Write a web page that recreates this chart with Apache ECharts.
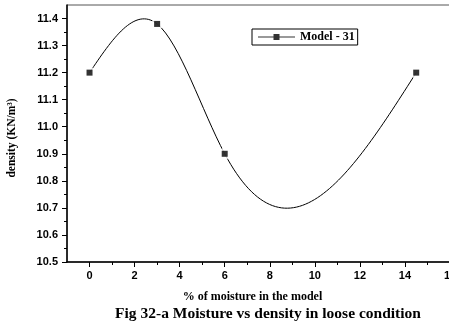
<!DOCTYPE html>
<html><head><meta charset="utf-8">
<script src="https://cdn.jsdelivr.net/npm/echarts@6/dist/echarts.min.js"></script>
<style>html,body{margin:0;padding:0;background:#fff}#c{width:449px;height:330px}</style>
</head><body><div id="c"></div>
<script>
const seriesName = 'Model - 31';
const moisture = [0, 3, 6, 14.5];
const density = [11.2, 11.38, 10.9, 11.2];
const xMajorTicks = [0, 2, 4, 6, 8, 10, 12, 14, 16];
const xMinorTicks = [1, 3, 5, 7, 9, 11, 13, 15];
const yMajorTicks = [10.5, 10.6, 10.7, 10.8, 10.9, 11.0, 11.1, 11.2, 11.3, 11.4];
const yMinorTicks = [10.55, 10.65, 10.75, 10.85, 10.95, 11.05, 11.15, 11.25, 11.35];
const xTitle = '% of moisture in the model';
const yTitle = 'density (KN/m\u00B3)';
const caption = 'Fig 32-a Moisture vs density in loose condition';

// natural cubic spline slopes at knots (used to draw the connecting curve)
function naturalSpline(xs, ys) {
  const n = xs.length, h = [];
  for (let i = 0; i < n - 1; i++) h[i] = xs[i + 1] - xs[i];
  const M = new Array(n).fill(0);
  const a = [], b = [], c = [], d = [];
  for (let i = 1; i < n - 1; i++) {
    a.push(h[i - 1]); b.push(2 * (h[i - 1] + h[i])); c.push(h[i]);
    d.push(6 * ((ys[i + 1] - ys[i]) / h[i] - (ys[i] - ys[i - 1]) / h[i - 1]));
  }
  const m = b.length;
  for (let i = 1; i < m; i++) { const w = a[i] / b[i - 1]; b[i] -= w * c[i - 1]; d[i] -= w * d[i - 1]; }
  const sol = new Array(m);
  for (let i = m - 1; i >= 0; i--) sol[i] = (d[i] - (i < m - 1 ? c[i] * sol[i + 1] : 0)) / b[i];
  for (let i = 0; i < m; i++) M[i + 1] = sol[i];
  const segs = [];
  for (let i = 0; i < n - 1; i++) {
    const s = (ys[i + 1] - ys[i]) / h[i];
    segs.push({ d0: s - h[i] * (2 * M[i] + M[i + 1]) / 6, d1: s + h[i] * (M[i] + 2 * M[i + 1]) / 6 });
  }
  return segs;
}
const segs = naturalSpline(moisture, density);
const points = moisture.map((x, i) => [x, density[i]]);

const tickFont = { fontFamily: 'Liberation Sans', fontWeight: 'bold', fontSize: 11, color: '#000' };
const tickLine = { color: '#000', width: 1 };

const chart = echarts.init(document.getElementById('c'), null, { renderer: 'canvas' });
chart.setOption({
  animation: false,
  backgroundColor: '#fff',
  grid: { left: 67, top: 5, width: 383, height: 257, outerBoundsMode: 'none', show: true, borderColor: '#555', borderWidth: 1, backgroundColor: 'transparent', containLabel: false },
  legend: {
    data: [{ name: seriesName, icon: 'path://M0,2.5H15.5V0H21.5V2.5H37V3.5H21.5V6H15.5V3.5H0Z' }],
    left: 252, top: 29, orient: 'horizontal',
    borderColor: '#000', borderWidth: 1, padding: [2, 3, 2, 6],
    itemWidth: 37, itemHeight: 6,
    textStyle: { fontFamily: 'Liberation Serif', fontWeight: 'bold', fontSize: 12, color: '#000' }
  },
  xAxis: [
    { type: 'value', min: -1, max: 16, position: 'bottom',
      axisLine: { show: true, onZero: false, lineStyle: { color: '#000', width: 1.5 } },
      axisTick: { show: true, customValues: xMajorTicks, length: 5, lineStyle: tickLine },
      axisLabel: Object.assign({ customValues: xMajorTicks, margin: 8 }, tickFont),
      splitLine: { show: false } },
    { type: 'value', min: -1, max: 16, position: 'bottom',
      axisLine: { show: false, onZero: false },
      axisTick: { show: true, customValues: xMinorTicks, length: 3, lineStyle: tickLine },
      axisLabel: { show: false }, splitLine: { show: false } }
  ],
  yAxis: [
    { type: 'value', min: 10.5, max: 11.45, position: 'left',
      axisLine: { show: true, onZero: false, lineStyle: { color: '#000', width: 1.5 } },
      axisTick: { show: true, customValues: yMajorTicks, length: 5, lineStyle: tickLine },
      axisLabel: Object.assign({ customValues: yMajorTicks, margin: 9, formatter: v => v.toFixed(1) }, tickFont),
      splitLine: { show: false } },
    { type: 'value', min: 10.5, max: 11.45, position: 'left',
      axisLine: { show: false, onZero: false },
      axisTick: { show: true, customValues: yMinorTicks, length: 3, lineStyle: tickLine },
      axisLabel: { show: false }, splitLine: { show: false } }
  ],
  series: [
    { type: 'custom', name: 'curve', xAxisIndex: 0, yAxisIndex: 0, z: 2, silent: true,
      encode: { x: 0, y: 1 }, data: points,
      renderItem: function (params, api) {
        const i = params.dataIndex;
        if (i >= moisture.length - 1) return { type: 'group', children: [] };
        const x0 = moisture[i], y0 = density[i], x1 = moisture[i + 1], y1 = density[i + 1];
        const hh = x1 - x0, s = segs[i];
        const p0 = api.coord([x0, y0]);
        const c1 = api.coord([x0 + hh / 3, y0 + s.d0 * hh / 3]);
        const c2 = api.coord([x1 - hh / 3, y1 - s.d1 * hh / 3]);
        const p1 = api.coord([x1, y1]);
        return { type: 'bezierCurve',
          shape: { x1: p0[0], y1: p0[1], cpx1: c1[0], cpy1: c1[1], cpx2: c2[0], cpy2: c2[1], x2: p1[0], y2: p1[1] },
          style: { stroke: '#000', lineWidth: 1, fill: null } };
      } },
    { type: 'scatter', name: 'halo', xAxisIndex: 0, yAxisIndex: 0, z: 3, silent: true,
      symbol: 'circle', symbolSize: 12, itemStyle: { color: '#fff' }, data: points },
    { type: 'scatter', name: seriesName, xAxisIndex: 0, yAxisIndex: 0, z: 4,
      symbol: 'rect', symbolSize: 6, itemStyle: { color: '#000' }, data: points }
  ],
  graphic: [
    { type: 'text', x: 252.5, y: 296.5, style: { text: xTitle, textAlign: 'center', align: 'center', textVerticalAlign: 'middle', verticalAlign: 'middle', font: 'bold 12px "Liberation Serif"', fill: '#000' } },
    { type: 'text', x: 12, y: 138, rotation: Math.PI / 2, style: { text: yTitle, textAlign: 'center', align: 'center', textVerticalAlign: 'middle', verticalAlign: 'middle', font: 'bold 11.5px "Liberation Serif"', fill: '#000' } },
    { type: 'text', x: 268, y: 314, style: { text: caption, textAlign: 'center', align: 'center', textVerticalAlign: 'middle', verticalAlign: 'middle', font: 'bold 15.5px "Liberation Serif"', fill: '#000' } }
  ]
});
</script></body></html>
